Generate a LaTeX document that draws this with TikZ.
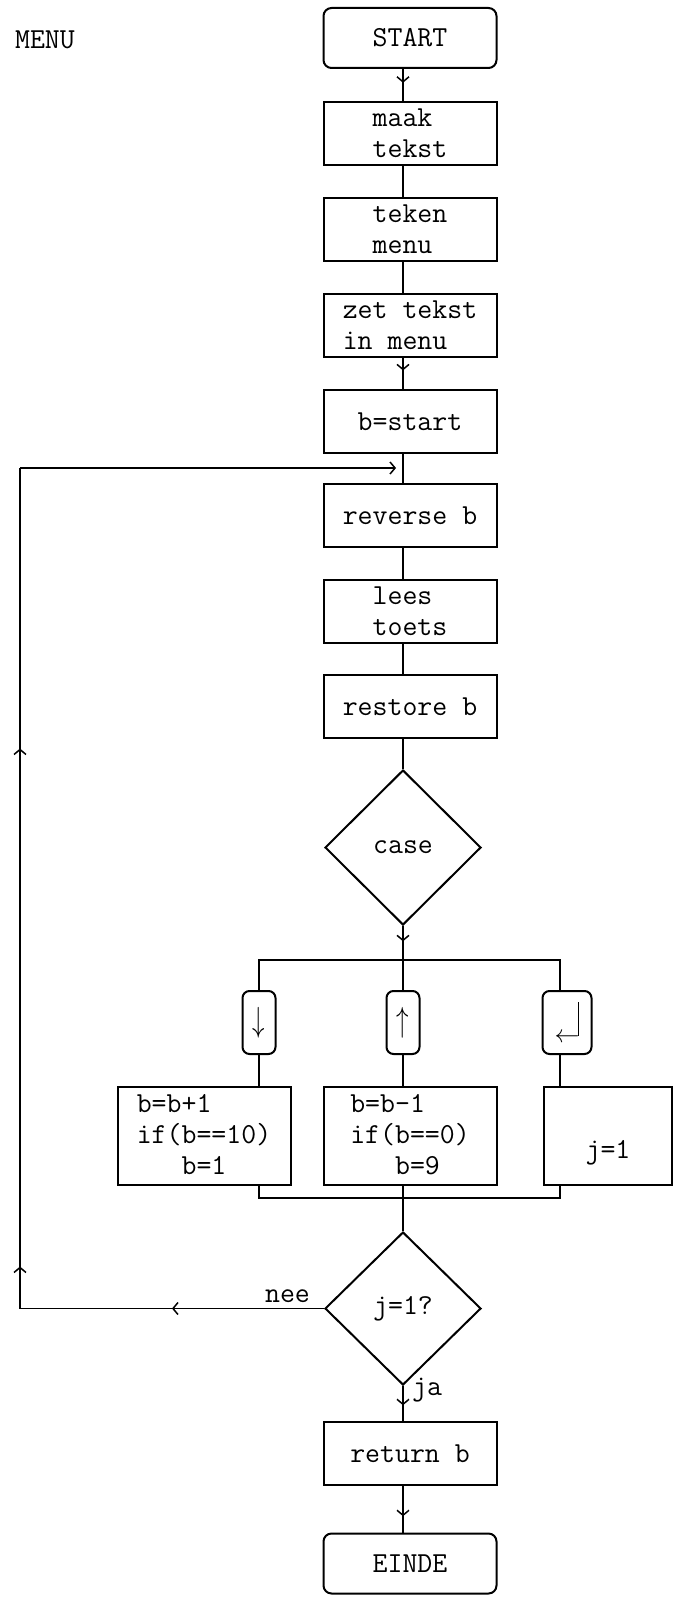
\documentclass[tikz,border=0pt]{standalone}
\usepackage{fontspec}
\usepackage{graphicx}
\usepackage{tikz}
\usetikzlibrary{arrows.meta,shapes,decorations.markings}

\begin{document}
\begin{tikzpicture}[x=1pt,y=-1pt,line width=1.5pt,>={Straight Barb[length=5pt,width=12pt]},
  font=\fontsize{29}{31}\selectfont\ttfamily,
  blok/.style={draw,line width=2pt,minimum width=173pt,minimum height=63pt,inner sep=0pt,align=left},
  eind/.style={blok,minimum height=60pt,rounded corners=8pt},
  ruit/.style={draw,diamond,line width=2pt,minimum width=156pt,minimum height=155pt,inner sep=0pt},
  toets/.style={draw,line width=2pt,rounded corners=7pt,minimum width=33pt,minimum height=63pt,inner sep=0pt},
  pijl/.style={postaction={decorate,decoration={markings,mark=at position #1 with {\arrow{>}}}}}]
\useasboundingbox (0,0) rectangle (675,1602);
\coordinate (spine) at (403,0);
\coordinate (colL) at (259,0);
\coordinate (colR) at (560,0);
\coordinate (lus) at (20,0);
\coordinate (inkom) at (403,468);
\coordinate (fork) at (403,960);
\coordinate (samen) at (403,1198);

\node[anchor=west] (titel) at (11,40) {MENU};

% hoofdlijn
\node[eind] (start) at (410,38) {START};
\node[blok] (maak) at (410,133.5) {maak\\tekst};
\node[blok] (teken) at (410,229.5) {teken\\menu};
\node[blok] (zet) at (410,325.5) {zet tekst\\in menu};
\node[blok] (bstart) at (410,421.5) {b=start};
\node[blok] (reverse) at (410,515.5) {reverse b};
\node[blok] (lees) at (410,611.5) {lees\\toets};
\node[blok] (restore) at (410,706.5) {restore b};
\node[ruit] (case) at (403,847.5) {case};

% toetsen
\node[toets] (kdown) at (259,1022.5) {\scalebox{1}[1.4]{$\downarrow$}};
\node[toets] (kup) at (403,1022.5) {\scalebox{1}[1.4]{$\uparrow$}};
\node[toets,minimum width=49pt] (kenter) at (567,1022.5) {$\leftarrow$\kern-1.6pt\rule[6.7pt]{1.3pt}{34pt}};
\node[blok,minimum height=98pt] (plus) at (204,1136) {b=b+1\\if(b==10)\\\phantom{if(}b=1};
\node[blok,minimum height=98pt] (minus) at (410,1136) {b=b-1\\if(b==0)\\\phantom{if(}b=9};
\node[blok,minimum width=128pt,minimum height=98pt,text height=44pt,text depth=0pt] (setj) at (608,1136) {j=1};

\node[ruit,minimum height=153pt] (test) at (403,1308.5) {j=1?};
\node[blok] (retour) at (410,1453.5) {return b};
\node[eind] (einde) at (410,1563.5) {EINDE};
\node[anchor=base east] (nee) at (314,1302) {nee};
\node[anchor=base west] (ja) at (408,1395) {ja};

\draw[pijl=0.43] (start.south -| spine) -- (maak.north -| spine);
\foreach \a/\b in {maak/teken,teken/zet,bstart/reverse,reverse/lees,lees/restore}
  \draw (\a.south -| spine) -- (\b.north -| spine);
\draw[pijl=0.4] (zet.south -| spine) -- (bstart.north -| spine);
\draw (restore.south -| spine) -- (case.north);

% vertakking
\draw[pijl=0.45] (case.south) -- (fork);
\draw (kdown.north) |- (fork) -| (kenter.north -| colR);
\draw (fork) -- (kup.north);
\draw (kdown.south) -- (plus.north -| colL);
\draw (kup.south) -- (minus.north -| spine);
\draw (kenter.south -| colR) -- (setj.north -| colR);
\draw (plus.south -| colL) |- (samen) -| (setj.south -| colR);
\draw (minus.south -| spine) -- (samen) -- (test.north);

% terug naar boven
\draw[postaction={decorate,decoration={markings,
    mark=at position 152pt with {\arrow{>}},
    mark=at position 346pt with {\arrow{>}},
    mark=at position 864pt with {\arrow{>}}}}]
  (test.west) -- (test.west -| lus) -- (lus |- inkom);
\draw[->,shorten >=7pt] (lus |- inkom) -- (inkom);

\draw[pijl=0.55] (test.south) -- (retour.north -| spine);
\draw[pijl=0.65] (retour.south -| spine) -- (einde.north -| spine);
\end{tikzpicture}
\end{document}
